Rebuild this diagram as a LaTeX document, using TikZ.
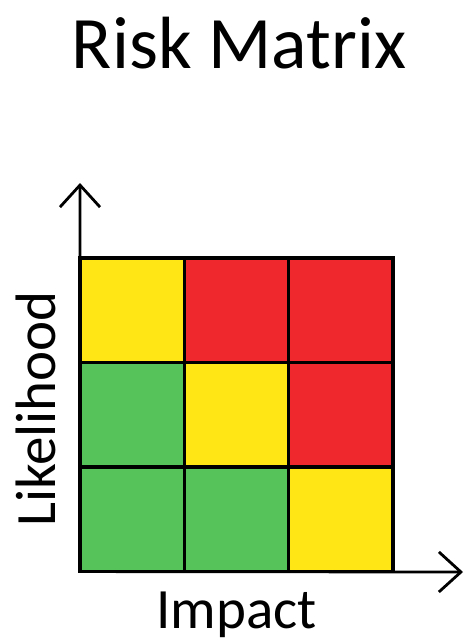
\documentclass[tikz,border=0pt]{standalone}
\usepackage{fontspec}
\setmainfont{Carlito}
\usetikzlibrary{arrows.meta}
\definecolor{rmyellow}{RGB}{255,230,20}
\definecolor{rmred}{RGB}{238,40,45}
\definecolor{rmgreen}{RGB}{85,195,90}
\tikzset{
  cell/.style={draw=black, line width=3.2pt, minimum size=104.5pt, inner sep=0pt, outer sep=0pt},
  axis/.style={line width=2.8pt, -{Straight Barb[length=22pt,width=40pt,line width=2.8pt]}},
  lbl/.style={inner sep=0pt, font=\fontsize{57}{60}\selectfont}
}
\begin{document}
\begin{tikzpicture}[x=1pt,y=-1pt]
\useasboundingbox (0,0) rectangle (465,642);
\fill[white] (0,0) rectangle (465,642);
\node[inner sep=0pt, anchor=base, font=\fontsize{74}{80}\selectfont] (title) at (239,68) {Risk Matrix};
% cells: columns x centres 132.2, 236.5, 340.8 ; rows y centres 310.2, 414.8, 519.3
\node[cell, fill=rmyellow] (c13) at (132.2,310.2) {};
\node[cell, fill=rmred]    (c23) at (236.5,310.2) {};
\node[cell, fill=rmred]    (c33) at (340.8,310.2) {};
\node[cell, fill=rmgreen]  (c12) at (132.2,414.8) {};
\node[cell, fill=rmyellow] (c22) at (236.5,414.8) {};
\node[cell, fill=rmred]    (c32) at (340.8,414.8) {};
\node[cell, fill=rmgreen]  (c11) at (132.2,519.3) {};
\node[cell, fill=rmgreen]  (c21) at (236.5,519.3) {};
\node[cell, fill=rmyellow] (c31) at (340.8,519.3) {};
\coordinate (origin) at (80,572);
\coordinate (ytip) at (80,183);
\coordinate (xtip) at (463,572);
\draw[axis, line cap=butt] (c11.south west) -- (ytip);
\draw[axis, line cap=butt] (c11.south west) -- (xtip);
\node[lbl, anchor=base] (impact) at (236.5,628) {Impact};
\node[lbl, anchor=base, rotate=90] (likelihood) at (55,409) {Likelihood};
\end{tikzpicture}
\end{document}
